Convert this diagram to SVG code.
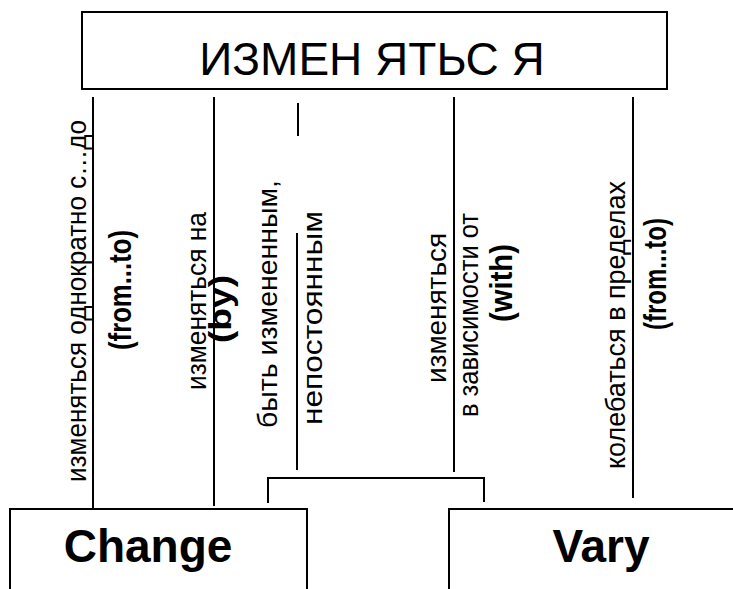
<svg xmlns="http://www.w3.org/2000/svg" width="733" height="589" viewBox="0 0 733 589">
<style>
.box{fill:#fff;stroke:#000;stroke-width:2}
.ln{stroke:#000;stroke-width:2;fill:none}
.t{font-family:"Liberation Sans",Arial,sans-serif;fill:#000}
.r{font-size:27px}
.b{font-size:31px;font-weight:bold}
</style>
<rect width="733" height="589" fill="#fff"/>
<g id="top">
<rect class="box" x="82" y="12" width="585" height="77"/>
<text class="t" x="372" y="75" font-size="46" text-anchor="middle">ИЗМЕН ЯТЬС Я</text>
</g>
<g id="connectors">
<line class="ln" x1="93" y1="97" x2="93" y2="508"/>
<line class="ln" x1="214" y1="97" x2="214" y2="506"/>
<line class="ln" x1="298" y1="103" x2="298" y2="136"/>
<line class="ln" x1="297" y1="233" x2="297" y2="470"/>
<line class="ln" x1="454" y1="97" x2="454" y2="472"/>
<line class="ln" x1="633" y1="97" x2="633" y2="498"/>
<polyline class="ln" points="268,503 268,478 484,478 484,502"/>
</g>
<g id="labels">
<text class="t r" transform="translate(86,482) rotate(-90)" textLength="362" lengthAdjust="spacingAndGlyphs">изменяться однократно с…до</text>
<text class="t b" transform="translate(131,290) rotate(-90)" text-anchor="middle" textLength="120" lengthAdjust="spacingAndGlyphs">(from...to)</text>
<text class="t r" transform="translate(206,390) rotate(-90)" textLength="178" lengthAdjust="spacingAndGlyphs">изменяться на</text>
<text class="t b" transform="translate(231,309) rotate(-90)" text-anchor="middle" textLength="68" lengthAdjust="spacingAndGlyphs">(by)</text>
<text class="t r" transform="translate(277,428) rotate(-90)" textLength="248" lengthAdjust="spacingAndGlyphs">быть измененным,</text>
<text class="t r" transform="translate(322,425) rotate(-90)" textLength="214" lengthAdjust="spacingAndGlyphs">непостоянным</text>
<text class="t r" transform="translate(446,383) rotate(-90)" textLength="150" lengthAdjust="spacingAndGlyphs">изменяться</text>
<text class="t r" transform="translate(478,417) rotate(-90)" textLength="204" lengthAdjust="spacingAndGlyphs">в зависимости от</text>
<text class="t b" transform="translate(512,283) rotate(-90)" text-anchor="middle" textLength="78" lengthAdjust="spacingAndGlyphs">(with)</text>
<text class="t r" transform="translate(625,469) rotate(-90)" textLength="288" lengthAdjust="spacingAndGlyphs">колебаться в пределах</text>
<text class="t b" transform="translate(666,274) rotate(-90)" text-anchor="middle" textLength="112" lengthAdjust="spacingAndGlyphs">(from...to)</text>
</g>
<g id="change">
<rect class="box" x="10" y="509" width="297" height="100"/>
<text class="t" x="148" y="562" font-size="46" font-weight="bold" text-anchor="middle">Change</text>
</g>
<g id="vary">
<rect class="box" x="449" y="509" width="300" height="100"/>
<text class="t" x="601" y="562" font-size="46" font-weight="bold" text-anchor="middle">Vary</text>
</g>
</svg>
